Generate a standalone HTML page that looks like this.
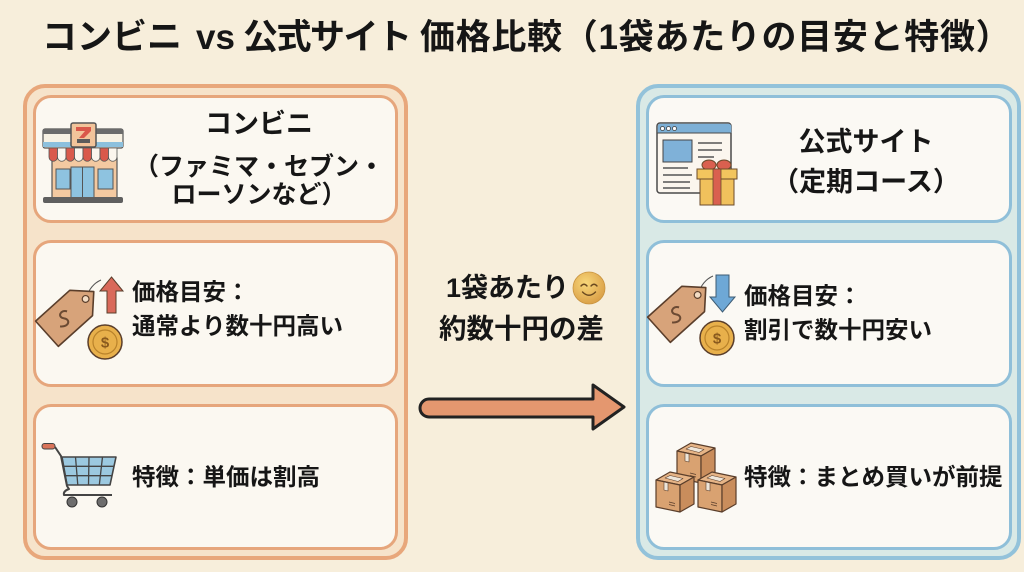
<!DOCTYPE html>
<html lang="ja">
<head>
<meta charset="utf-8">
<style>
  html,body{margin:0;padding:0;}
  body{width:1024px;height:572px;position:relative;overflow:hidden;background:#f7eedb;
       font-family:"Liberation Sans","Noto Sans CJK JP",sans-serif;font-weight:700;color:#161616;}
  .outerL{position:absolute;left:23px;top:84px;width:385px;height:476px;box-sizing:border-box;
          border:4px solid #e8a77b;border-radius:22px;background:#f6e3ca;}
  .outerR{position:absolute;left:636px;top:84px;width:385px;height:476px;box-sizing:border-box;
          border:4px solid #93c2da;border-radius:22px;background:#d9e9e6;}
  .inL{position:absolute;left:33px;width:365px;box-sizing:border-box;border:3px solid #e6a67c;
       border-radius:18px;background:#fbf8f1;}
  .inR{position:absolute;left:646px;width:366px;box-sizing:border-box;border:3px solid #8fbfd9;
       border-radius:18px;background:#fbf9f4;}
  .t{position:absolute;white-space:nowrap;height:40px;line-height:40px;}
  svg{position:absolute;left:0;top:0;}
</style>
</head>
<body>
<!-- title -->
<div class="t" style="left:42px;top:18px;font-size:35px;">コンビニ</div>
<div class="t" style="left:196px;top:18px;font-size:35px;">vs</div>
<div class="t" style="left:243px;top:18px;font-size:35px;letter-spacing:-1.5px;">公式サイト</div>
<div class="t" style="left:420px;top:18px;font-size:35px;letter-spacing:0.7px;">価格比較（1袋あたりの目安と特徴）</div>

<!-- containers -->
<div class="outerL"></div>
<div class="outerR"></div>
<div class="inL" style="top:95px;height:128px;"></div>
<div class="inL" style="top:240px;height:147px;"></div>
<div class="inL" style="top:404px;height:146px;"></div>
<div class="inR" style="top:95px;height:128px;"></div>
<div class="inR" style="top:240px;height:147px;"></div>
<div class="inR" style="top:404px;height:146px;"></div>

<svg width="1024" height="572" viewBox="0 0 1024 572">
  <defs>
    <radialGradient id="emo" cx="0.4" cy="0.35" r="0.7">
      <stop offset="0" stop-color="#f8d77a"/>
      <stop offset="1" stop-color="#d99d45"/>
    </radialGradient>
    <g id="cbox">
      <polygon points="0,8 14,0 38,5 24,13" fill="#e6b486"/>
      <polygon points="0,8 24,13 24,40 0,35" fill="#d9a271"/>
      <polygon points="24,13 38,5 38,32 24,40" fill="#c98d5c"/>
      <polygon points="9,6 14,3.5 27,6.5 22,9.5" fill="#eee6da" stroke-width="0.6"/>
      <polygon points="8,10 12,11 12,19 8,18" fill="#eee6da" stroke-width="0.6"/>
      <line x1="13" y1="30" x2="19" y2="31.5" stroke-width="0.7"/>
      <line x1="13" y1="32.5" x2="19" y2="34" stroke-width="0.7"/>
    </g>
  </defs>

  <!-- Store icon -->
  <g stroke="#555" stroke-width="1.2">
    <rect x="43" y="129" width="80" height="19" rx="2" fill="#f7f1e3"/>
    <rect x="43" y="129" width="80" height="5" fill="#6b6b6b" stroke="none"/>
    <rect x="43" y="142" width="80" height="5" fill="#8cc0dd" stroke="none"/>
    <rect x="52" y="158" width="65" height="40" fill="#f3c9a1"/>
    <rect x="56" y="169" width="14" height="20" fill="#8ec3e0" stroke-width="1"/>
    <rect x="71" y="167" width="23" height="31" fill="#8ec3e0" stroke-width="1"/>
    <line x1="82.5" y1="167" x2="82.5" y2="198" stroke-width="1"/>
    <rect x="98" y="169" width="15" height="20" fill="#8ec3e0" stroke-width="1"/>
    <g stroke-width="0.8">
      <path d="M49 148 h8.5 v9 a4.25 4.25 0 0 1 -8.5 0 z" fill="#d9594b"/>
      <path d="M57.5 148 h8.5 v9 a4.25 4.25 0 0 1 -8.5 0 z" fill="#fbf6ee"/>
      <path d="M66 148 h8.5 v9 a4.25 4.25 0 0 1 -8.5 0 z" fill="#d9594b"/>
      <path d="M74.5 148 h8.5 v9 a4.25 4.25 0 0 1 -8.5 0 z" fill="#fbf6ee"/>
      <path d="M83 148 h8.5 v9 a4.25 4.25 0 0 1 -8.5 0 z" fill="#d9594b"/>
      <path d="M91.5 148 h8.5 v9 a4.25 4.25 0 0 1 -8.5 0 z" fill="#fbf6ee"/>
      <path d="M100 148 h8.5 v9 a4.25 4.25 0 0 1 -8.5 0 z" fill="#d9594b"/>
      <path d="M108.5 148 h8.5 v9 a4.25 4.25 0 0 1 -8.5 0 z" fill="#fbf6ee"/>
    </g>
    <rect x="71" y="123" width="25" height="24" rx="2" fill="#f2c49a" stroke-width="1.5"/>
    <path d="M76 127 H91 V131 L84 138 H79 L85 131 H76 Z" fill="#d9584a" stroke="none"/>
    <rect x="77" y="139" width="13" height="4" fill="#5b5b5b" stroke="none"/>
    <rect x="43" y="197" width="80" height="6" rx="2" fill="#5f5f5f" stroke="none"/>
  </g>

  <!-- Website + gift icon -->
  <g>
    <rect x="657" y="123" width="74" height="70" rx="3" fill="#fbf6ee" stroke="#4a4a4a" stroke-width="1.5"/>
    <path d="M657.75 126 a3 3 0 0 1 3 -2.25 h67.5 a3 3 0 0 1 3 2.25 v7 h-73.5 z" fill="#7db0d6"/>
    <line x1="657" y1="133" x2="731" y2="133" stroke="#4a4a4a" stroke-width="1"/>
    <circle cx="662.5" cy="128.5" r="2" fill="#fff" stroke="#444" stroke-width="0.8"/>
    <circle cx="668.5" cy="128.5" r="2" fill="#fff" stroke="#444" stroke-width="0.8"/>
    <circle cx="674.5" cy="128.5" r="2" fill="#fff" stroke="#444" stroke-width="0.8"/>
    <rect x="663" y="140" width="29" height="22" fill="#7fb1d8" stroke="#444" stroke-width="1"/>
    <g stroke="#555" stroke-width="1.5">
      <line x1="698" y1="143" x2="722" y2="143"/>
      <line x1="698" y1="150" x2="722" y2="150"/>
      <line x1="698" y1="157" x2="714" y2="157"/>
      <line x1="663" y1="168" x2="688" y2="168"/>
      <line x1="663" y1="175" x2="692" y2="175"/>
      <line x1="663" y1="182" x2="690" y2="182"/>
      <line x1="663" y1="188" x2="690" y2="188"/>
    </g>
    <ellipse cx="709" cy="165" rx="7" ry="5" fill="#d9604f" stroke="#6b4b2b" stroke-width="1"/>
    <ellipse cx="724" cy="165" rx="7" ry="5" fill="#d9604f" stroke="#6b4b2b" stroke-width="1"/>
    <rect x="700" y="178" width="34" height="27" fill="#f0c15c" stroke="#6b4b2b" stroke-width="1"/>
    <rect x="697" y="169" width="40" height="10" fill="#f2c55e" stroke="#6b4b2b" stroke-width="1"/>
    <rect x="713" y="169" width="8" height="36" fill="#d9604f" stroke="#6b4b2b" stroke-width="0.8"/>
  </g>

  <!-- Price tag icon (left) -->
  <g>
    <path d="M86 298 C89 289 94 283 101 280" fill="none" stroke="#555" stroke-width="1"/>
    <g transform="translate(70,313) rotate(-42)">
      <path d="M-31 -17 H15 L32 0 L15 17 H-31 Z" fill="#d7a37a" stroke="#5a3e2b" stroke-width="1.6" stroke-linejoin="round"/>
      <circle cx="21" cy="0" r="3.4" fill="#f3dcc4" stroke="#5a3e2b" stroke-width="1.2"/>
      <path d="M-5 -7 C-12 -9 -15 -1 -8 0 C-1 1 -3 9 -12 8" fill="none" stroke="#6b4a33" stroke-width="2" transform="rotate(42 -8 0)"/>
    </g>
    <circle cx="105" cy="342" r="17" fill="#e8b04b" stroke="#5a3e2b" stroke-width="1.5"/>
    <circle cx="105" cy="342" r="12" fill="none" stroke="#b9822a" stroke-width="1.2"/>
    <text x="105" y="347.5" font-size="15" text-anchor="middle" fill="#8a5a1e" font-family="Liberation Sans, sans-serif">$</text>
    <polygon points="111.5,277 123,291 116,291 116,313 107,313 107,291 100,291" fill="#d9695a" stroke="#5a3e2b" stroke-width="1"/>
  </g>

  <!-- Price tag icon (right) -->
  <g transform="translate(612,-4)">
    <path d="M86 298 C89 289 94 283 101 280" fill="none" stroke="#555" stroke-width="1"/>
    <g transform="translate(70,313) rotate(-42)">
      <path d="M-31 -17 H15 L32 0 L15 17 H-31 Z" fill="#d7a37a" stroke="#5a3e2b" stroke-width="1.6" stroke-linejoin="round"/>
      <circle cx="21" cy="0" r="3.4" fill="#f3dcc4" stroke="#5a3e2b" stroke-width="1.2"/>
      <path d="M-5 -7 C-12 -9 -15 -1 -8 0 C-1 1 -3 9 -12 8" fill="none" stroke="#6b4a33" stroke-width="2" transform="rotate(42 -8 0)"/>
    </g>
    <circle cx="105" cy="342" r="17" fill="#e8b04b" stroke="#5a3e2b" stroke-width="1.5"/>
    <circle cx="105" cy="342" r="12" fill="none" stroke="#b9822a" stroke-width="1.2"/>
    <text x="105" y="347.5" font-size="15" text-anchor="middle" fill="#8a5a1e" font-family="Liberation Sans, sans-serif">$</text>
    <polygon points="104,279 117,279 117,301 123,301 110.5,316 98,301 104,301" fill="#6ea8d6" stroke="#3d5b73" stroke-width="1"/>
  </g>

  <!-- Cart icon -->
  <g>
    <polygon points="62,457 116,457 110,485 67,485" fill="#9cc9e0" stroke="#444" stroke-width="1.6" stroke-linejoin="round"/>
    <g stroke="#444" stroke-width="1.3">
      <line x1="75.5" y1="457" x2="77.8" y2="485"/>
      <line x1="89" y1="457" x2="88.5" y2="485"/>
      <line x1="102.5" y1="457" x2="99.3" y2="485"/>
      <line x1="63.7" y1="466.3" x2="114" y2="466.3"/>
      <line x1="65.3" y1="475.7" x2="112" y2="475.7"/>
    </g>
    <path d="M55 447 L61 456 L67 486 L69 489 Q63 491 64 495 L112 495" fill="none" stroke="#444" stroke-width="2" stroke-linejoin="round"/>
    <rect x="42" y="443.5" width="13" height="5.5" rx="2.5" fill="#d9745a" stroke="#444" stroke-width="1"/>
    <circle cx="72" cy="502" r="5" fill="#6d6d6d" stroke="#333" stroke-width="1"/>
    <circle cx="102" cy="502" r="5" fill="#6d6d6d" stroke="#333" stroke-width="1"/>
  </g>

  <!-- Boxes icon -->
  <g stroke="#5a3e2b" stroke-width="1.2" stroke-linejoin="round">
    <use href="#cbox" transform="translate(677,443)"/>
    <use href="#cbox" transform="translate(656,472)"/>
    <use href="#cbox" transform="translate(698,472)"/>
  </g>

  <!-- Arrow -->
  <path d="M429 399 L593 399 L593 385 L624 407 L593 429 L593 417 L429 417 A9 9 0 0 1 429 399 Z"
        fill="#e4976f" stroke="#222" stroke-width="3" stroke-linejoin="round"/>

  <!-- Emoji -->
  <circle cx="589" cy="288" r="16" fill="url(#emo)" stroke="#c99440" stroke-width="0.8"/>
  <path d="M581 286 Q584 282.5 587 286 M591 286 Q594 282.5 597 286" fill="none" stroke="#6b4a20" stroke-width="1.4" stroke-linecap="round"/>
  <path d="M582.5 292 Q589 298.5 595.5 292" fill="none" stroke="#6b4a20" stroke-width="1.4" stroke-linecap="round"/>
</svg>

<!-- Left box 1 text -->
<div class="t" style="left:130px;width:258px;text-align:center;top:104px;font-size:27px;">コンビニ</div>
<div class="t" style="left:130px;width:258px;text-align:center;top:147px;font-size:25px;">（ファミマ・セブン・</div>
<div class="t" style="left:130px;width:258px;text-align:center;top:175px;font-size:25px;">ローソンなど）</div>

<!-- Right box 1 text -->
<div class="t" style="left:733px;width:266px;text-align:center;top:122px;font-size:27px;">公式サイト</div>
<div class="t" style="left:733px;width:266px;text-align:center;top:162px;font-size:27px;">（定期コース）</div>

<!-- Left box 2 -->
<div class="t" style="left:132px;top:272px;font-size:23.5px;">価格目安：</div>
<div class="t" style="left:132px;top:306px;font-size:23.5px;">通常より数十円高い</div>

<!-- Right box 2 -->
<div class="t" style="left:744px;top:276px;font-size:23.5px;">価格目安：</div>
<div class="t" style="left:744px;top:310px;font-size:23.5px;">割引で数十円安い</div>

<!-- Box 3 -->
<div class="t" style="left:132px;top:457px;font-size:23.5px;">特徴：単価は割高</div>
<div class="t" style="left:744px;top:457px;font-size:23.5px;">特徴：まとめ買いが前提</div>

<!-- Middle -->
<div class="t" style="left:446px;top:268px;font-size:27px;">1袋あたり</div>
<div class="t" style="left:439px;top:309px;font-size:27.5px;">約数十円の差</div>
</body>
</html>
